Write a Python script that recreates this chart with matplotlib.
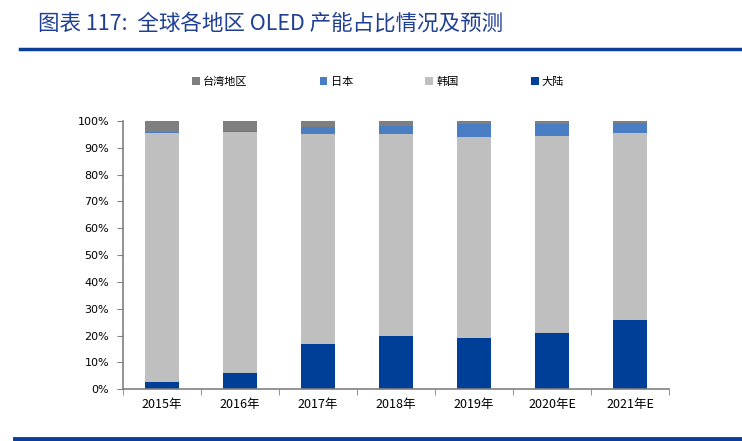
import numpy as np
import matplotlib.pyplot as plt
from matplotlib.lines import Line2D
from matplotlib.ticker import MultipleLocator, FixedLocator, PercentFormatter

plt.rcParams['font.family'] = ['Noto Sans CJK SC', 'DejaVu Sans']

years = ['2015年', '2016年', '2017年', '2018年', '2019年', '2020年E', '2021年E']
mainland = [2.7, 6.2, 16.8, 20.0, 19.0, 21.1, 26.0]
korea = [92.7, 89.7, 78.2, 75.2, 74.9, 73.2, 69.6]
japan = [0.6, 0.4, 2.6, 3.0, 5.0, 4.6, 3.8]
taiwan = [4.0, 3.7, 2.4, 1.8, 1.1, 1.1, 0.6]

c_mainland = '#003F97'
c_korea = '#BFBFBF'
c_japan = '#4A7EC4'
c_taiwan = '#7F7F7F'

fig = plt.figure(figsize=(7.42, 4.41), dpi=100)
ax = fig.add_axes([123 / 742, 1 - 389.3 / 441, (669 - 123) / 742, (389.3 - 121) / 441])

x = np.arange(len(years))
w = 0.43
b1 = ax.bar(x, mainland, w, color=c_mainland, label='大陆')
bottom = np.array(mainland)
b2 = ax.bar(x, korea, w, bottom=bottom, color=c_korea, label='韩国')
bottom = bottom + np.array(korea)
b3 = ax.bar(x, japan, w, bottom=bottom, color=c_japan, label='日本')
bottom = bottom + np.array(japan)
b4 = ax.bar(x, taiwan, w, bottom=bottom, color=c_taiwan, label='台湾地区')

ax.set_xlim(-0.5, len(years) - 0.5)
ax.set_ylim(0, 100)
ax.yaxis.set_major_locator(MultipleLocator(10))
ax.yaxis.set_major_formatter(PercentFormatter(decimals=0))
ax.set_xticks(x)
ax.set_xticklabels(years, fontsize=9)
ax.xaxis.set_minor_locator(FixedLocator(np.arange(-0.5, len(years), 1)))
ax.tick_params(axis='x', which='major', length=0, pad=6)
ax.tick_params(axis='x', which='minor', length=4, color='#808080', direction='out')
ax.tick_params(axis='y', length=4, color='#808080', pad=6)
for lbl in ax.get_yticklabels():
    lbl.set_family('DejaVu Sans')
    lbl.set_fontsize(8)

for s in ['top', 'right']:
    ax.spines[s].set_visible(False)
for s in ['left', 'bottom']:
    ax.spines[s].set_color('#808080')
    ax.spines[s].set_linewidth(1.2)

fig.legend(handles=[b4, b3, b2, b1], labels=['台湾地区', '日本', '韩国', '大陆'],
           loc='center', bbox_to_anchor=(378 / 742, 1 - 82 / 441), ncol=4,
           frameon=False, fontsize=8, handlelength=0.7, handleheight=0.7,
           handletextpad=0.3, columnspacing=6.5)

fig.text(38 / 742, 1 - 24 / 441, '图表 117:  全球各地区 OLED 产能占比情况及预测',
         fontsize=15.5, color='#1F3F93', va='center', ha='left', style='italic')

fig.add_artist(Line2D([20 / 742, 1], [1 - 48.5 / 441] * 2, color='#0B3F97', lw=2.5,
                      transform=fig.transFigure))
fig.add_artist(Line2D([15 / 742, 1], [1 - 438.5 / 441] * 2, color='#0B3F97', lw=3.5,
                      transform=fig.transFigure))

fig.savefig('out.png', dpi=100)
